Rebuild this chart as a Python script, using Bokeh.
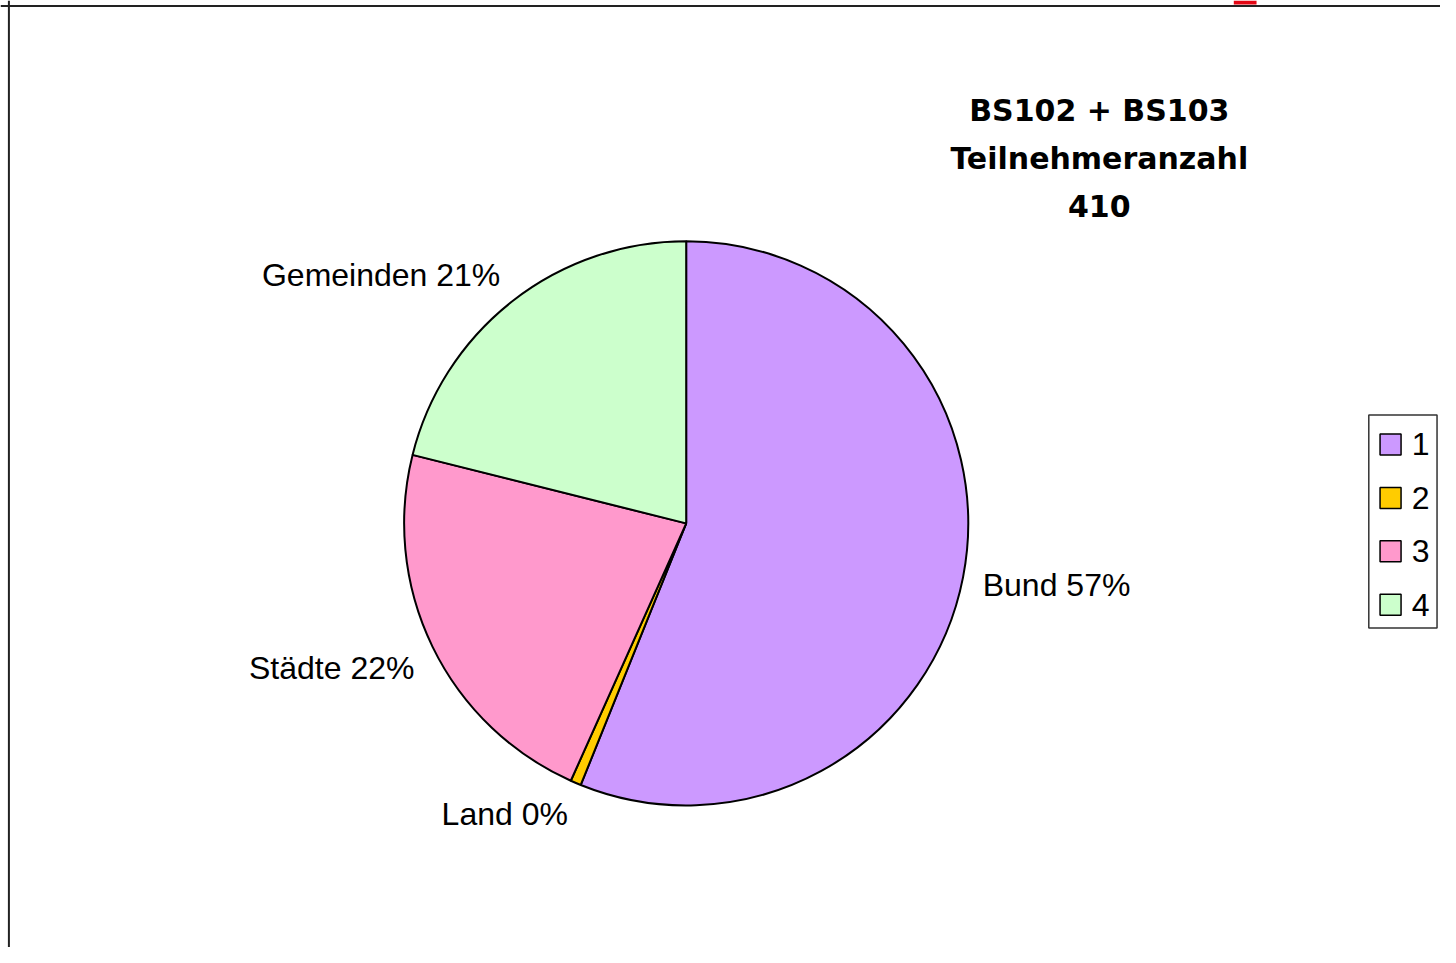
import numpy as np
from bokeh.plotting import figure
from bokeh.models import Range1d, Span, ColumnDataSource
from bokeh.core.properties import value
from bokeh.embed import file_html
from bokeh.resources import INLINE

# ---- data ----
categories = ["Bund", "Land", "Städte", "Gemeinden"]
counts = [230, 2.5, 91, 86.5]
pct_labels = ["57%", "0%", "22%", "21%"]
legend_labels = ["1", "2", "3", "4"]
colors = ["#CC99FF", "#FFCC00", "#FF99CC", "#CCFFCC"]
title_lines = ["BS102 + BS103", "Teilnehmeranzahl", "410"]

# ---- layout: reference pixel coordinates mapped onto the figure ----
W, H = 1440, 947
KX, KY = W / 1456, H / 963
def sx(X):
    return X * KX
def sy(Y):
    return H - Y * KY

p = figure(width=W, height=H, x_range=Range1d(0, W), y_range=Range1d(0, H),
           x_axis_type=None, y_axis_type=None, toolbar_location=None,
           output_backend="svg", min_border=0)
p.outline_line_color = None
p.grid.visible = False
p.background_fill_color = "white"

# frame lines (top and left of chart area)
p.add_layout(Span(location=sy(5.5), dimension="width", line_color="#222222", line_width=2))
p.add_layout(Span(location=sx(8.5), dimension="height", line_color="#222222", line_width=2))
# red mark at top edge
p.quad(left=[sx(1247)], right=[sx(1270)], top=[sy(0)], bottom=[sy(4)],
       fill_color="#E30613", line_color=None)

# ---- pie ----
cx, cy, R = sx(693.3), sy(531.7), 286 * (KX + KY) / 2
vals = np.array(counts, dtype=float)
frac = vals / vals.sum()
cum = np.concatenate([[0], np.cumsum(frac)])
start = np.pi / 2 - 2 * np.pi * cum[:-1]
end = np.pi / 2 - 2 * np.pi * cum[1:]
src = ColumnDataSource(dict(start=start, end=end, color=colors, cat=categories))
p.wedge(x=cx, y=cy, radius=R, start_angle="start", end_angle="end", direction="clock",
        fill_color="color", line_color="black", line_width=2, source=src)

# ---- slice labels (outside end) ----
mid = 2 * np.pi * (cum[:-1] + cum[1:]) / 2  # clockwise from top
RL = R + 20
lx, ly, align = [], [], []
for th in mid:
    s, c = np.sin(th), np.cos(th)
    ax = cx + RL * s
    ay = cy + RL * c
    if c < -0.3:
        ay -= 13
    elif c > 0.3:
        ay += 10
    else:
        ay -= 4
    lx.append(ax)
    ly.append(ay)
    align.append("left" if s > 0 else "right")
texts = [f"{a} {b}" for a, b in zip(categories, pct_labels)]
for x, y, t, a in zip(lx, ly, texts, align):
    p.text(x=[x], y=[y], text=[t], text_align=a, text_baseline="middle",
           text_font=value("Liberation Sans"), text_font_size="32px", text_color="black")

# ---- title ----
tx = sx(1111)
for i, line in enumerate(title_lines):
    p.text(x=[tx], y=[sy(111.7 + 48.8 * i)], text=[line], text_align="center",
           text_baseline="alphabetic", text_font=value("DejaVu Sans"),
           text_font_style="bold", text_font_size="30px", text_color="black")

# ---- legend (manual) ----
lg_left, lg_right, lg_top, lg_bottom = 1383.5, 1452.5, 421.5, 638
p.quad(left=[sx(lg_left)], right=[sx(lg_right)], top=[sy(lg_top)], bottom=[sy(lg_bottom)],
       fill_color="white", line_color="#333333", line_width=1.5)
n = len(legend_labels)
ys = [sy(451.5 + 54.3 * i) for i in range(n)]
p.rect(x=[sx(1405.5)] * n, y=ys, width=21, height=21, fill_color=colors,
       line_color="black", line_width=1.5)
p.text(x=[sx(1427)] * n, y=ys, text=legend_labels, text_align="left", text_baseline="middle",
       text_font=value("Liberation Sans"), text_font_size="32px", text_color="black")

open("out.html", "w").write(file_html(p, INLINE))
